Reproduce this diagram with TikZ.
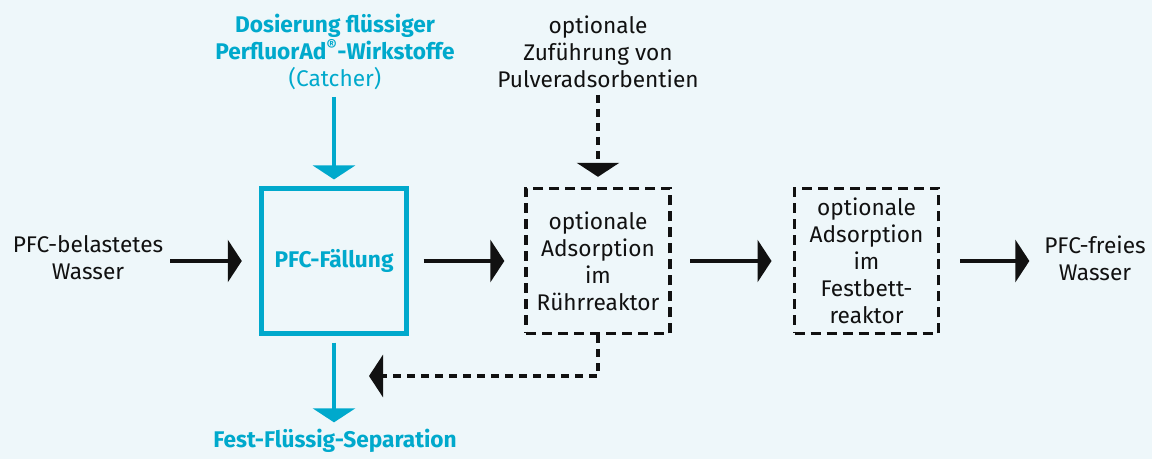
\documentclass[tikz,border=0pt]{standalone}
\usepackage{fontspec}
\setmainfont{Fira Sans}
\usetikzlibrary{arrows.meta}
\definecolor{bg}{HTML}{EEF7FA}
\definecolor{cy}{HTML}{00A9CC}
\definecolor{ink}{HTML}{111111}
\tikzset{
  x=0.75pt, y=-0.75pt,
  fnt/.style={font=\fontsize{17}{20.25}\selectfont},
  txt/.style={inner sep=0pt, align=center, text=ink, fnt},
  ctxt/.style={txt, text=cy},
  solidbox/.style={draw=cy, line width=3.6pt, minimum width=108.75pt, minimum height=108.75pt, inner sep=0pt, align=center, font=\fontsize{17}{20.25}\selectfont\bfseries, text=cy},
  dbox/.style={draw=ink, line width=2.5pt, dash pattern=on 7.5pt off 4.5pt, minimum width=108pt, minimum height=108.75pt, inner sep=0pt, align=center, fnt, text=ink},
  tip/.style={-{Triangle[length=10.5pt, width=31.5pt]}},
  arr/.style={tip, draw=ink, line width=2.5pt},
  carr/.style={tip, draw=cy, line width=2.5pt},
  darr/.style={tip, draw=ink, line width=2.5pt, dash pattern=on 6pt off 4.5pt},
}
\begin{document}
\begin{tikzpicture}
\fill[bg] (0,0) rectangle (1152,459);
\useasboundingbox (0,0) rectangle (1152,459);
\node[solidbox] (b1) at (334,261) {PFC-Fällung};
\node[dbox] (b2) at (598,261) {optionale\\Adsorption\\im\\Rührreaktor};
\node[dbox] (b3) at (866.5,261) {optionale\\Adsorption\\im\\Festbett-\\reaktor};
\node[txt] (in) at (88,258) {PFC-belastetes\\Wasser};
\node[txt] (out) at (1095,258) {PFC-freies\\Wasser};
\node[ctxt] (dos) at (335,52) {\textbf{Dosierung flüssiger}\\\textbf{PerfluorAd\textsuperscript{®}-Wirkstoffe}\\(Catcher)};
\node[txt] (pulv) at (598,52) {optionale\\Zuführung von\\Pulveradsorbentien};
\node[ctxt, font=\fontsize{17}{20.25}\selectfont\bfseries] (sep) at (335,441) {Fest-Flüssig-Separation};
\coordinate (a1s) at (170,261);
\coordinate (ret) at (369,376);
\draw[arr, shorten >=13pt] (a1s) -- (b1.west);
\draw[arr, shorten <=11pt, shorten >=15pt] (b1.east) -- (b2.west);
\draw[arr, shorten <=14pt, shorten >=16pt] (b2.east) -- (b3.west);
\draw[arr, shorten <=15pt, shorten >=11pt] (b3.east) -- (b3.east -| out.west);
\draw[carr, shorten <=5pt, shorten >=5pt] (dos.south -| b1.north) -- (b1.north);
\draw[carr, shorten <=5pt, shorten >=5pt] (b1.south) -- (sep.north -| b1.south);
\draw[darr, shorten <=5pt, shorten >=7.5pt] (pulv.south) -- (b2.north);
\draw[darr] (b2.south) |- (ret);
\end{tikzpicture}
\end{document}
